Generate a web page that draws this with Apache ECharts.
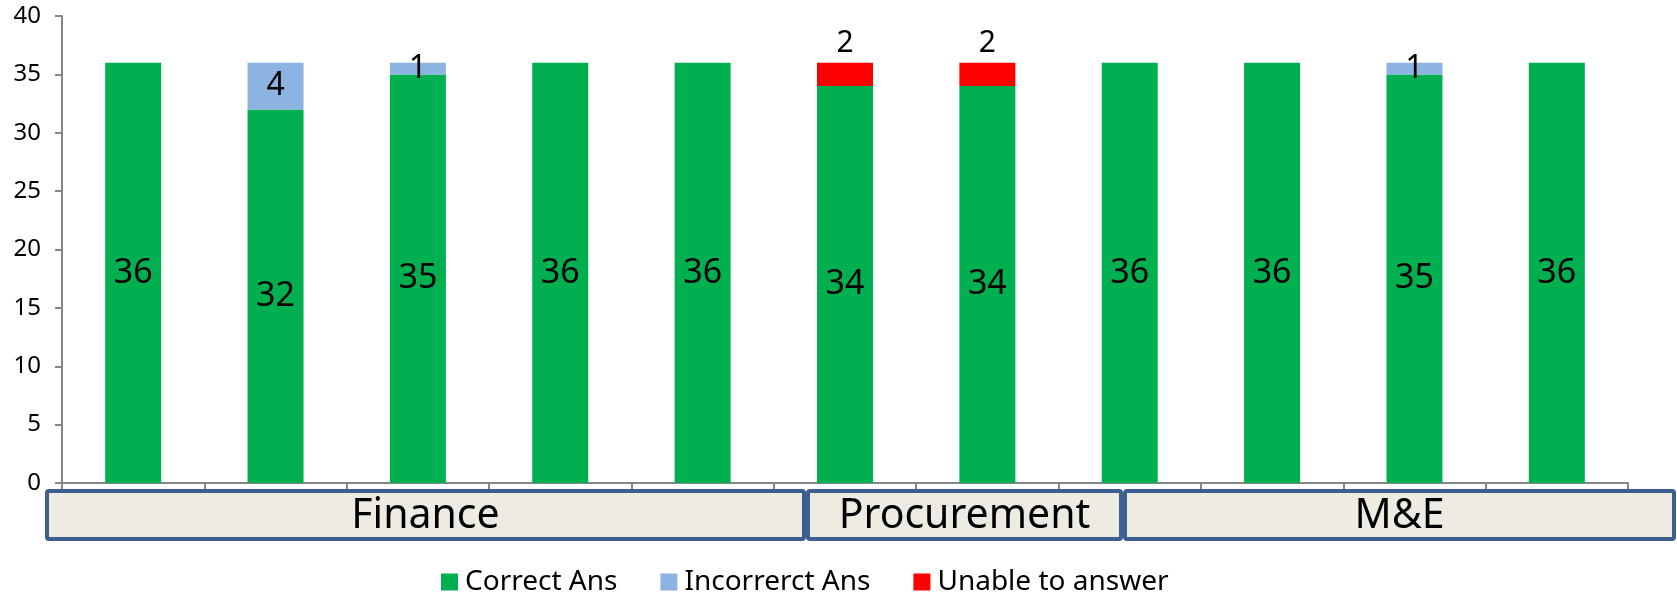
<!DOCTYPE html>
<html>
<head>
<meta charset="utf-8">
<script src="https://cdn.jsdelivr.net/npm/echarts@6/dist/echarts.min.js"></script>
<style>
  html, body { margin: 0; padding: 0; background: #fff; }
  #main { width: 1677px; height: 593px; }
</style>
</head>
<body>
<div id="main"></div>
<script>
// question slots along the axis (labels hidden, groups drawn below)
var questions = ['Q1', 'Q2', 'Q3', 'Q4', 'Q5', 'Q6', 'Q7', 'Q8', 'Q9', 'Q10', 'Q11'];
var groupNames = ['Finance', 'Procurement', 'M&E'];

var correctAns   = [36, 32, 35, 36, 36, 34, 34, 36, 36, 35, 36];
var incorrectAns = [0, 4, 1, 0, 0, 0, 0, 0, 0, 1, 0];
var unableAns    = [0, 0, 0, 0, 0, 2, 2, 0, 0, 0, 0];

var yTicks = { min: 0, max: 40, interval: 5 };

var font = 'Noto Sans';
var myChart = echarts.init(document.getElementById('main'));

// 分组框 (drawn like the excel shapes under the axis)
var boxes = [[45, 806], [806, 1123], [1123, 1676]];
var graphics = [];
for (var i = 0; i < groupNames.length; i++) {
    var x0 = boxes[i][0], x1 = boxes[i][1];
    graphics.push({
        type: 'rect',
        shape: { x: x0 + 2, y: 491, width: x1 - x0 - 4, height: 48, r: 2 },
        style: { fill: '#eeece1', stroke: '#3d5f8f', lineWidth: 4 },
        z: 10
    });
    graphics.push({
        type: 'text',
        x: (x0 + x1) / 2,
        y: 516,
        style: {
            text: groupNames[i],
            font: '41px "' + font + '"',
            fill: '#000',
            align: 'center',
            verticalAlign: 'middle'
        },
        z: 11
    });
}

function hideZero(p) {
    return p.value > 0 ? p.value : '';
}

var option = {
    animation: false,
    textStyle: { fontFamily: font },
    grid: { left: 62, right: 49, top: 16, bottom: 110 },
    legend: {
        left: 436,
        top: 563,
        itemWidth: 17,
        itemHeight: 17,
        itemGap: 43,
        icon: 'rect',
        textStyle: { fontSize: 28, color: '#000', fontFamily: font, padding: [0, 0, 0, 2] },
        data: ['Correct Ans', 'Incorrerct Ans', 'Unable to answer']
    },
    xAxis: {
        type: 'category',
        data: questions,
        axisLine: { lineStyle: { color: '#868686', width: 2 } },
        axisTick: { show: true, length: 6, lineStyle: { color: '#868686', width: 2 } },
        axisLabel: { show: false }
    },
    yAxis: {
        type: 'value',
        min: yTicks.min,
        max: yTicks.max,
        interval: yTicks.interval,
        splitLine: { show: false },
        axisLine: { show: true, lineStyle: { color: '#868686', width: 2 } },
        axisTick: { show: true, length: 7, lineStyle: { color: '#868686', width: 2 } },
        axisLabel: { fontSize: 24, color: '#000', margin: 21, fontFamily: font }
    },
    series: [
        {
            name: 'Correct Ans',
            type: 'bar',
            stack: 'total',
            barWidth: 56,
            itemStyle: { color: '#00b050' },
            label: { show: true, position: 'inside', fontSize: 34, color: '#000', fontFamily: font },
            data: correctAns
        },
        {
            name: 'Incorrerct Ans',
            type: 'bar',
            stack: 'total',
            barWidth: 56,
            itemStyle: { color: '#8db3e2' },
            label: { show: true, position: 'inside', fontSize: 32, color: '#000', fontFamily: font, formatter: hideZero },
            data: incorrectAns
        },
        {
            name: 'Unable to answer',
            type: 'bar',
            stack: 'total',
            barWidth: 56,
            itemStyle: { color: '#ff0000' },
            label: { show: true, position: 'top', distance: 4, fontSize: 30, color: '#000', fontFamily: font, formatter: hideZero },
            data: unableAns
        }
    ],
    graphic: graphics
};

myChart.setOption(option);
</script>
</body>
</html>
